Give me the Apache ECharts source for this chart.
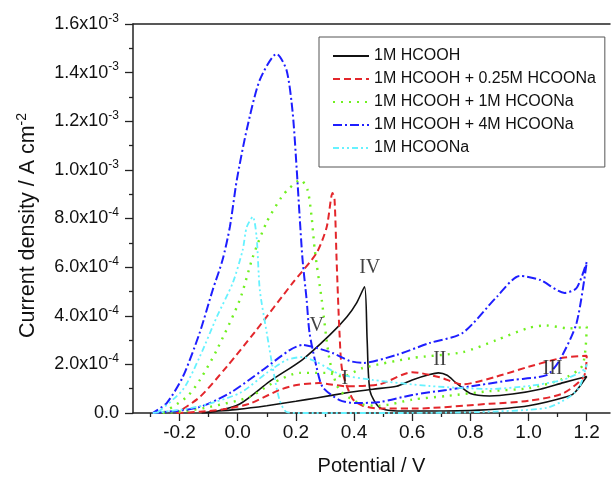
<!DOCTYPE html>
<html><head><meta charset="utf-8">
<script src="https://cdn.jsdelivr.net/npm/echarts@6/dist/echarts.min.js"></script>
<style>html,body{margin:0;padding:0;background:#fff}#c{width:611px;height:481px}</style>
</head><body><div id="c"></div>
<script>
// Potential (V), current density in units of 1e-4 A cm^-2
const seriesNames = ['1M HCOOH', '1M HCOOH + 0.25M HCOONa', '1M HCOOH + 1M HCOONa', '1M HCOOH + 4M HCOONa', '1M HCOONa'];
const hcooh = [[-0.124,0],[-0.096,0.05],[0.0,0.15],[0.10,0.3],[0.2,0.48],[0.27,0.62],[0.385,0.85],[0.464,0.98],[0.546,1.1],[0.60,1.36],[0.66,1.58],[0.69,1.65],[0.72,1.55],[0.75,1.25],[0.80,0.8],[0.866,0.7],[0.945,0.78],[1.04,0.98],[1.12,1.25],[1.2,1.5],
  [1.16,0.85],[1.14,0.7],[1.0,0.3],[0.83,0.12],[0.66,0.08],[0.55,0.08],[0.488,0.22],[0.455,0.9],[0.445,3.0],[0.436,5.19],[0.409,4.53],[0.375,3.95],[0.316,3.2],[0.223,2.2],[0.11,1.3],[0.007,0.37],[-0.08,0.05],[-0.124,0]];
const hcooh025 = [[-0.21,0],[-0.13,0.05],[-0.05,0.15],[0.04,0.38],[0.144,0.95],[0.203,1.15],[0.28,1.23],[0.375,1.1],[0.488,1.18],[0.60,1.68],[0.694,1.47],[0.773,1.18],[0.89,1.5],[1.0,1.9],[1.117,2.27],[1.2,2.35],
  [1.19,1.5],[1.117,0.8],[1.0,0.5],[0.866,0.38],[0.60,0.18],[0.488,0.18],[0.43,0.3],[0.395,0.58],[0.36,1.7],[0.35,3.3],[0.34,6.3],[0.333,8.77],[0.326,9.05],[0.306,7.65],[0.271,6.58],[0.189,5.35],[0.06,3.35],[-0.038,1.9],[-0.13,0.66],[-0.21,0]];
const hcooh1 = [[-0.258,0],[-0.18,0.08],[-0.096,0.25],[0.041,0.66],[0.12,1.23],[0.213,1.65],[0.306,1.65],[0.36,1.5],[0.43,1.85],[0.60,2.26],[0.773,2.5],[0.89,3.0],[1.0,3.5],[1.06,3.6],[1.14,3.48],[1.2,3.55],
  [1.185,1.95],[1.117,1.4],[1.0,1.02],[0.866,0.9],[0.718,0.7],[0.60,0.55],[0.488,0.3],[0.43,0.35],[0.35,0.95],[0.316,2.18],[0.289,4.65],[0.265,6.7],[0.254,8.07],[0.24,9.18],[0.216,9.59],[0.179,9.26],[0.151,8.89],[0.1,7.86],[0.052,6.42],[0.007,4.65],[-0.072,2.59],[-0.13,1.36],[-0.175,0.66],[-0.258,0]];
const hcooh4 = [[-0.292,0],[-0.141,0.21],[-0.027,0.82],[0.086,1.77],[0.179,2.59],[0.223,2.8],[0.258,2.72],[0.326,2.47],[0.385,2.14],[0.43,2.06],[0.546,2.39],[0.66,2.88],[0.773,3.29],[0.89,4.77],[0.97,5.64],[1.04,5.47],[1.124,4.94],[1.165,5.14],[1.2,6.21],
  [1.165,3.7],[1.107,2.18],[1.062,1.56],[0.945,1.36],[0.83,1.15],[0.718,0.95],[0.60,0.74],[0.488,0.45],[0.409,0.41],[0.35,0.53],[0.292,1.07],[0.271,1.89],[0.247,3.29],[0.237,4.65],[0.223,6.3],[0.213,8.07],[0.203,10.0],[0.189,12.35],[0.168,14.1],[0.134,14.77],[0.076,13.7],[0.031,11.65],[-0.003,9.59],[-0.027,7.65],[-0.052,6.3],[-0.086,5.06],[-0.131,3.29],[-0.189,1.48],[-0.244,0.41],[-0.292,0]];
const hcoona = [[-0.292,0],[-0.141,0.25],[0.007,0.82],[0.1,1.65],[0.168,2.18],[0.223,2.3],[0.271,2.1],[0.35,1.6],[0.464,1.36],[0.66,1.11],[0.866,0.99],[1.0,1.11],[1.117,1.36],[1.185,1.73],[1.2,2.0],
  [1.175,1.07],[1.14,0.66],[1.062,0.21],[0.83,0.04],[0.557,0],[0.213,0],[0.168,0.04],[0.144,0.53],[0.12,1.89],[0.1,3.29],[0.076,5.06],[0.065,7.24],[0.052,8.07],[0.031,7.65],[0.017,6.7],[-0.017,5.35],[-0.072,3.95],[-0.131,2.3],[-0.189,0.95],[-0.278,0]];
const peakNames = ['IV','V','I','II','III'];
const peakPotentials = [0.454,0.272,0.368,0.695,1.083];
const peakCurrents = [5.98,3.57,1.39,2.21,1.84];
const xMajorTicks = [-0.2,0,0.2,0.4,0.6,0.8,1.0,1.2];
const xMinorTicks = [-0.3,-0.1,0.1,0.3,0.5,0.7,0.9,1.1];

const colors = ['#111111','#e3262b','#70f020','#1e1eff','#66f2ff'];
const dashes = ['solid',[7,4],[2,6],[9,3,2,3],[6,3,2,3,2,3]];
const widths = [1.6,2,2.4,2,1.8];
const datasets = [hcooh, hcooh025, hcooh1, hcooh4, hcoona];
const FONT = "'Liberation Sans', Arial, sans-serif";
const SERIF = "'Liberation Serif', 'DejaVu Serif', serif";
const scale = 1e-4;

const series = datasets.map((d,i)=>({
  name: seriesNames[i], type:'line', symbol:'none', smooth:0.25, silent:true,
  xAxisIndex:0, yAxisIndex:0,
  lineStyle:{color:colors[i], width:widths[i], type:dashes[i]},
  itemStyle:{color:colors[i]},
  data: d.map(p=>[p[0], p[1]*scale])
}));
series.push({
  name:'peaks', type:'scatter', silent:true, symbolSize:2, z:10,
  itemStyle:{color:'rgba(255,255,255,0)'},
  data: peakNames.map((n,i)=>[peakPotentials[i], peakCurrents[i]*scale]),
  label:{show:true, position:'inside', formatter:p=>peakNames[p.dataIndex], fontFamily:SERIF, fontSize:20, color:'#111'},
  labelLayout:{hideOverlap:false}
});

function yfmt(v){
  if (Math.abs(v) < 1e-12) return '0.0';
  const e = Math.floor(Math.log10(v) + 1e-9);
  const m = v / Math.pow(10, e);
  return '{a|' + m.toFixed(1) + 'x10}{s|' + e + '}';
}

const chart = echarts.init(document.getElementById('c'), null, {renderer:'canvas'});
chart.setOption({
  animation:false,
  backgroundColor:'#fff',
  grid:{left:133, right:1, top:24, bottom:67},
  legend:{
    data: seriesNames, orient:'vertical', left:319, top:37,
    padding:[11,9,11,13], itemWidth:36, itemHeight:14, itemGap:7,
    borderColor:'#555', borderWidth:1,
    itemStyle:{opacity:0},
    textStyle:{fontFamily:FONT, fontSize:16, color:'#111'}
  },
  xAxis:[
    {type:'value', min:-0.36, max:1.28, position:'bottom',
     name:'Potential / V', nameLocation:'middle', nameGap:43,
     nameTextStyle:{fontFamily:FONT, fontSize:20, color:'#111'},
     axisLine:{show:true, onZero:false, lineStyle:{color:'#222', width:1.5}},
     axisTick:{show:true, customValues:xMajorTicks, length:8, lineStyle:{color:'#222', width:1.3}},
     axisLabel:{customValues:xMajorTicks, margin:10, fontFamily:FONT, fontSize:19, color:'#111', formatter:v=>v.toFixed(1)},
     splitLine:{show:false}},
    {type:'value', min:-0.36, max:1.28, position:'bottom',
     axisLine:{show:false, onZero:false},
     axisTick:{show:true, customValues:xMinorTicks, length:4, lineStyle:{color:'#222', width:1.3}},
     axisLabel:{show:false}, splitLine:{show:false}},
    {type:'value', min:-0.36, max:1.28, position:'top',
     axisLine:{show:true, onZero:false, lineStyle:{color:'#222', width:1.5}},
     axisTick:{show:false}, axisLabel:{show:false}, splitLine:{show:false}}
  ],
  yAxis:[
    {type:'value', min:0, max:0.0016, interval:0.0002, position:'left',
     name:'{a|Current density / A cm}{s|-2}', nameLocation:'middle', nameGap:91, nameRotate:90,
     nameTextStyle:{padding:[0,14,0,0], rich:{a:{fontFamily:FONT, fontSize:21.5, color:'#111', lineHeight:27}, s:{fontFamily:FONT, fontSize:14, color:'#111', lineHeight:14, verticalAlign:'top'}}},
     axisLine:{show:true, onZero:false, lineStyle:{color:'#222', width:1.5}},
     axisTick:{show:true, length:8, lineStyle:{color:'#222', width:1.3}},
     minorTick:{show:true, splitNumber:2, length:4, lineStyle:{color:'#222', width:1.3}},
     axisLabel:{margin:14, formatter:yfmt, fontFamily:FONT, fontSize:18, color:'#111',
       rich:{a:{fontFamily:FONT, fontSize:18, color:'#111', lineHeight:23}, s:{fontFamily:FONT, fontSize:12, color:'#111', lineHeight:12, verticalAlign:'top'}}},
     splitLine:{show:false}}
  ],
  series: series
});
</script>
</body></html>
